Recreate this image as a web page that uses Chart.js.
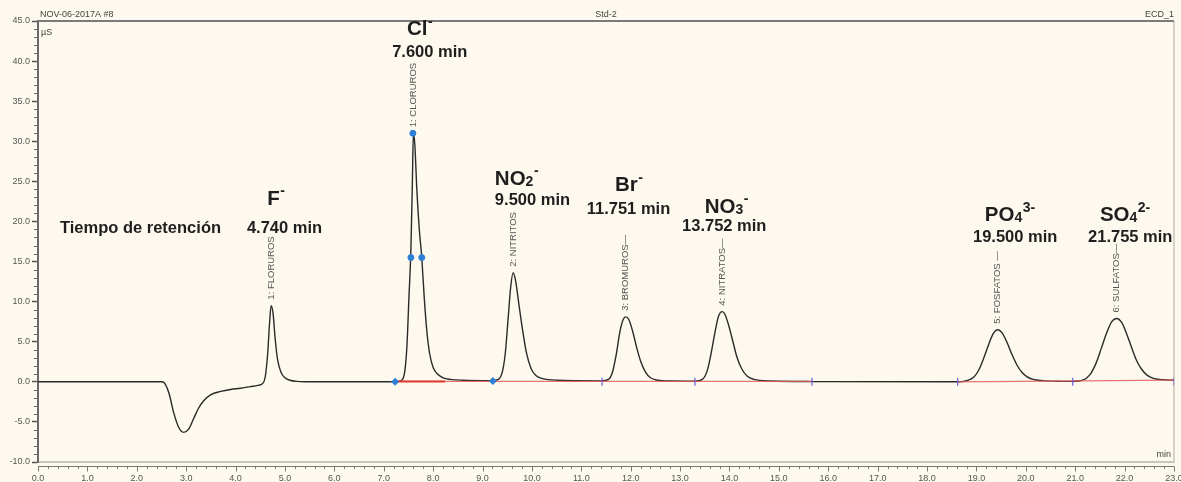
<!DOCTYPE html>
<html><head><meta charset="utf-8">
<script src="https://cdn.jsdelivr.net/npm/chart.js@4"></script>
<style>html,body{margin:0;padding:0;background:#fdf9ee;}#wrap{width:1181px;height:482px;position:relative;}</style>
</head><body><div id="wrap"><canvas id="c"></canvas></div>
<script>
// ---- Data (time in min, conductivity in µS) ----
const time = [0.0,2.5,2.55,2.65,2.75,2.85,2.95,3.05,3.15,3.25,3.35,3.5,3.7,3.9,4.1,4.3,4.45,4.55,4.6,4.65,4.69,4.72,4.76,4.8,4.85,4.92,5.0,5.1,5.25,5.5,
  7.2,7.3,7.38,7.43,7.47,7.51,7.55,7.58,7.6,7.63,7.67,7.72,7.77,7.82,7.87,7.93,8.0,8.1,8.2,8.35,8.6,
  9.2,9.32,9.4,9.46,9.52,9.57,9.62,9.67,9.74,9.81,9.89,9.98,10.08,10.22,10.5,
  11.4,11.55,11.63,11.71,11.78,11.85,11.9,11.96,12.04,12.12,12.2,12.3,12.4,12.55,12.8,
  13.3,13.45,13.55,13.63,13.71,13.78,13.85,13.91,13.99,14.07,14.15,14.25,14.36,14.5,14.8,15.7,
  18.6,18.8,18.95,19.05,19.15,19.25,19.34,19.43,19.52,19.62,19.72,19.82,19.92,20.02,20.15,20.35,20.6,20.95,
  21.15,21.3,21.42,21.53,21.63,21.74,21.84,21.94,22.04,22.14,22.24,22.34,22.46,22.6,22.8,23.0];
const signal = [0,0,-0.1,-1.4,-3.9,-5.7,-6.3,-5.9,-4.6,-3.3,-2.4,-1.6,-1.2,-0.95,-0.8,-0.6,-0.45,-0.2,0.6,3.5,7.5,9.5,8.5,5.5,2.8,1.2,0.5,0.2,0.05,0,
  0,0.05,0.3,1.5,4.5,10.5,16.5,25,31,29.5,24,19,15.5,10.5,6.5,3.5,1.8,0.9,0.5,0.3,0.2,
  0.15,0.3,1.2,3.5,8.0,11.8,13.6,12.6,9.5,6.5,3.6,1.7,0.8,0.4,0.2,
  0.12,0.3,1.2,3.5,6.2,7.8,8.1,7.8,6.3,4.3,2.6,1.2,0.5,0.2,0.1,
  0.08,0.3,1.4,3.6,6.3,8.2,8.75,8.4,6.9,5.0,3.1,1.6,0.7,0.3,0.1,0.03,
  0.0,0.15,0.6,1.5,3.0,4.7,6.0,6.5,6.1,4.9,3.4,2.1,1.2,0.65,0.3,0.15,0.08,0.05,
  0.2,0.9,2.3,4.2,6.0,7.5,7.9,7.4,6.0,4.3,2.7,1.6,0.8,0.4,0.25,0.2];

const peakNames   = ['1: FLORUROS','1: CLORUROS','2: NITRITOS','3: BROMUROS\u2014','4: NITRATOS\u2014','5: FOSFATOS \u2014','6: SULFATOS\u2014'];
const peakTimes   = [4.72, 7.6, 9.62, 11.9, 13.85, 19.43, 21.84];
const peakHeights = [9.5, 31, 13.6, 8.1, 8.75, 6.5, 7.9];

const ionBase   = ['F','Cl','NO','Br','NO','PO','SO'];
const ionSub    = ['','','2','','3','4','4'];
const ionCharge = ['-','-','-','-','-','3-','2-'];
const retentionLabels = ['4.740 min','7.600 min','9.500 min','11.751 min','13.752 min','19.500 min','21.755 min'];

// integration baselines and markers
const baseStart = [7.23, 18.62], baseEnd = [15.67, 23.0];
const baseStartVal = [0.05, 0.0], baseEndVal = [0.05, 0.2];
const startMarkTimes = [7.23, 9.21], startMarkVals = [0.0, 0.1];
const dotTimes = [7.55, 7.77, 7.59], dotVals = [15.5, 15.5, 31];
const delimTimes = [11.42, 13.3, 15.67, 18.62, 20.95, 23.0];

const yTickLabels = [-10,-5,0,5,10,15,20,25,30,35,40,45];
const xTickLabels = [0,1,2,3,4,5,6,7,8,9,10,11,12,13,14,15,16,17,18,19,20,21,22,23];

// ---- build datasets ----
const curve = time.map((t,i)=>({x:t,y:signal[i]}));
const redBase = [];
baseStart.forEach((s,i)=>{ if(i>0) redBase.push({x:(baseEnd[i-1]+s)/2,y:null}); redBase.push({x:s,y:baseStartVal[i]},{x:baseEnd[i],y:baseEndVal[i]}); });

const FONT = '"Liberation Sans", Arial, sans-serif';
const deco = {
  id:'deco',
  beforeDraw(chart){
    const {ctx,width,height} = chart;
    ctx.save(); ctx.fillStyle = '#fdf9ee'; ctx.fillRect(0,0,width,height); ctx.restore();
  },
  beforeDatasetsDraw(chart){
    const {ctx, chartArea:a} = chart;
    ctx.save();
    ctx.strokeStyle = '#d6d2c8'; ctx.lineWidth = 2;
    ctx.beginPath(); ctx.moveTo(a.right, a.top); ctx.lineTo(a.right, a.bottom); ctx.stroke();
    ctx.strokeStyle = '#7a7a7a'; ctx.lineWidth = 2;
    ctx.beginPath(); ctx.moveTo(a.left, a.top); ctx.lineTo(a.right, a.top); ctx.stroke();
    ctx.restore();
  },
  afterDatasetsDraw(chart){
    const {ctx, chartArea:a, scales:{x,y}} = chart;
    ctx.save();
    // rotated peak names
    ctx.fillStyle = '#555'; ctx.font = '9.5px ' + FONT; ctx.textAlign='left'; ctx.textBaseline='middle';
    peakNames.forEach((n,i)=>{
      const px = x.getPixelForValue(peakTimes[i]), py = y.getPixelForValue(peakHeights[i]) - 6;
      ctx.save(); ctx.translate(px, py); ctx.rotate(-Math.PI/2); ctx.fillText(n,0,0); ctx.restore();
    });
    // annotation texts
    const o = chart.options.plugins.deco;
    ctx.fillStyle = '#1e1e1e'; ctx.textBaseline='alphabetic'; ctx.textAlign='left';
    ctx.font = 'bold 16.5px ' + FONT;
    ctx.fillText('Tiempo de retención', x.getPixelForValue(o.tiempoAt[0]), y.getPixelForValue(o.tiempoAt[1]));
    retentionLabels.forEach((t,i)=>{
      ctx.font = 'bold 16.5px ' + FONT;
      ctx.fillText(t, x.getPixelForValue(o.rtAt[i][0]), y.getPixelForValue(o.rtAt[i][1]));
    });
    const S = 20.5;
    ionBase.forEach((b,i)=>{
      let px = x.getPixelForValue(o.ionAt[i][0]); const py = y.getPixelForValue(o.ionAt[i][1]);
      ctx.font = `bold ${S}px ${FONT}`; ctx.fillText(b, px, py); px += ctx.measureText(b).width;
      if(ionSub[i]){ ctx.font = `bold ${Math.round(S*0.66)}px ${FONT}`; ctx.fillText(ionSub[i], px, py+1); px += ctx.measureText(ionSub[i]).width; }
      if(ionCharge[i]){ ctx.font = `bold ${Math.round(S*0.66)}px ${FONT}`; ctx.fillText(ionCharge[i], px+0.5, py - S*0.45); }
    });
    ctx.restore();
  },
  afterDraw(chart){
    const {ctx, chartArea:a, scales:{x,y}} = chart;
    ctx.save();
    // y minor ticks
    ctx.strokeStyle = '#666'; ctx.lineWidth = 1;
    for(let i=-10;i<=45;i++){ if(i%5===0) continue; const py=Math.round(y.getPixelForValue(i))+0.5;
      ctx.beginPath(); ctx.moveTo(a.left-4,py); ctx.lineTo(a.left-1,py); ctx.stroke(); }
    // x axis line below frame with ticks
    const ay = a.bottom + 4.5;
    ctx.strokeStyle = '#777';
    ctx.beginPath(); ctx.moveTo(a.left, ay); ctx.lineTo(a.right, ay); ctx.stroke();
    for(let i=0;i<=115;i++){ const px=Math.round(x.getPixelForValue(i/5))+0.5; const len = (i%5===0)?5:2.5;
      ctx.beginPath(); ctx.moveTo(px,ay); ctx.lineTo(px,ay+len); ctx.stroke(); }
    // header & unit texts
    ctx.fillStyle = '#444'; ctx.font = '9px ' + FONT; ctx.textBaseline='alphabetic';
    ctx.textAlign='left'; ctx.fillText('NOV-06-2017A #8', a.left+2, a.top-4);
    ctx.textAlign='center'; ctx.fillText('Std-2', (a.left+a.right)/2, a.top-4);
    ctx.textAlign='right'; ctx.fillText('ECD_1', a.right, a.top-4);
    ctx.textAlign='left'; ctx.fillText('µS', a.left+3, a.top+14);
    ctx.textAlign='right'; ctx.fillText('min', a.right-3, a.bottom-5);
    ctx.restore();
  }
};

new Chart(document.getElementById('c'), {
  type:'line',
  data:{datasets:[
    {data:startMarkTimes.map((t,i)=>({x:t,y:startMarkVals[i]})), showLine:false, pointStyle:'rectRot', pointRadius:3.5, backgroundColor:'#2f7fd6', borderColor:'#2f7fd6', order:0},
    {data:dotTimes.map((t,i)=>({x:t,y:dotVals[i]})), showLine:false, pointStyle:'circle', pointRadius:3, backgroundColor:'#2f7fd6', borderColor:'#2f7fd6', order:0},
    {data:delimTimes.map(t=>({x:t,y:0})), showLine:false, pointStyle:'line', rotation:90, pointRadius:4, borderColor:'#6a5cd6', borderWidth:1.2, order:0},
    {data:[{x:baseStart[0],y:baseStartVal[0]},{x:8.24,y:baseStartVal[0]}], borderColor:'#e0392f', borderWidth:2, pointRadius:0, order:1},
    {data:redBase, borderColor:'rgba(230,90,90,0.85)', borderWidth:1.3, pointRadius:0, spanGaps:false, order:1},
    {data:curve, borderColor:'#2a2a2a', borderWidth:1.4, pointRadius:0, cubicInterpolationMode:'monotone', order:2}
  ]},
  options:{
    responsive:true, maintainAspectRatio:false, animation:false, devicePixelRatio:1,
    layout:{padding:{top:21,right:7,left:0,bottom:0}},
    plugins:{legend:{display:false}, tooltip:{enabled:false},
      deco:{
        tiempoAt:[0.445,18.6],
        rtAt:[[4.23,18.6],[7.17,40.5],[9.25,22.1],[11.11,20.9],[13.04,18.75],[18.93,17.4],[21.26,17.4]],
        ionAt:[[4.64,22.1],[7.47,43.25],[9.25,24.6],[11.68,23.75],[13.5,21.1],[19.17,20.0],[21.5,20.0]]
      }},
    scales:{
      x:{type:'linear', min:0, max:23,
        afterBuildTicks(s){ s.ticks = xTickLabels.map(v=>({value:v})); },
        ticks:{autoSkip:false, maxRotation:0, minRotation:0, font:{family:FONT,size:9}, color:'#555', padding:2, callback:v=>Number(v).toFixed(1)},
        grid:{drawOnChartArea:false, drawTicks:true, tickLength:9, tickColor:'rgba(0,0,0,0)', tickWidth:1},
        border:{display:true, color:'#c9c6bd', width:2},
        afterFit(s){ s.height=20; s.paddingLeft=0; s.paddingRight=0; }
      },
      y:{min:-10, max:45,
        afterBuildTicks(s){ s.ticks = yTickLabels.map(v=>({value:v})); },
        ticks:{font:{family:FONT,size:9}, color:'#555', padding:2, callback:v=>Number(v).toFixed(1)},
        grid:{drawOnChartArea:false, drawTicks:true, tickLength:6, tickColor:'#555', tickWidth:1.5},
        border:{display:true, color:'#6a6a6a', width:2},
        afterFit(s){ s.width=38; }
      }
    }
  },
  plugins:[deco]
});
</script></body></html>
